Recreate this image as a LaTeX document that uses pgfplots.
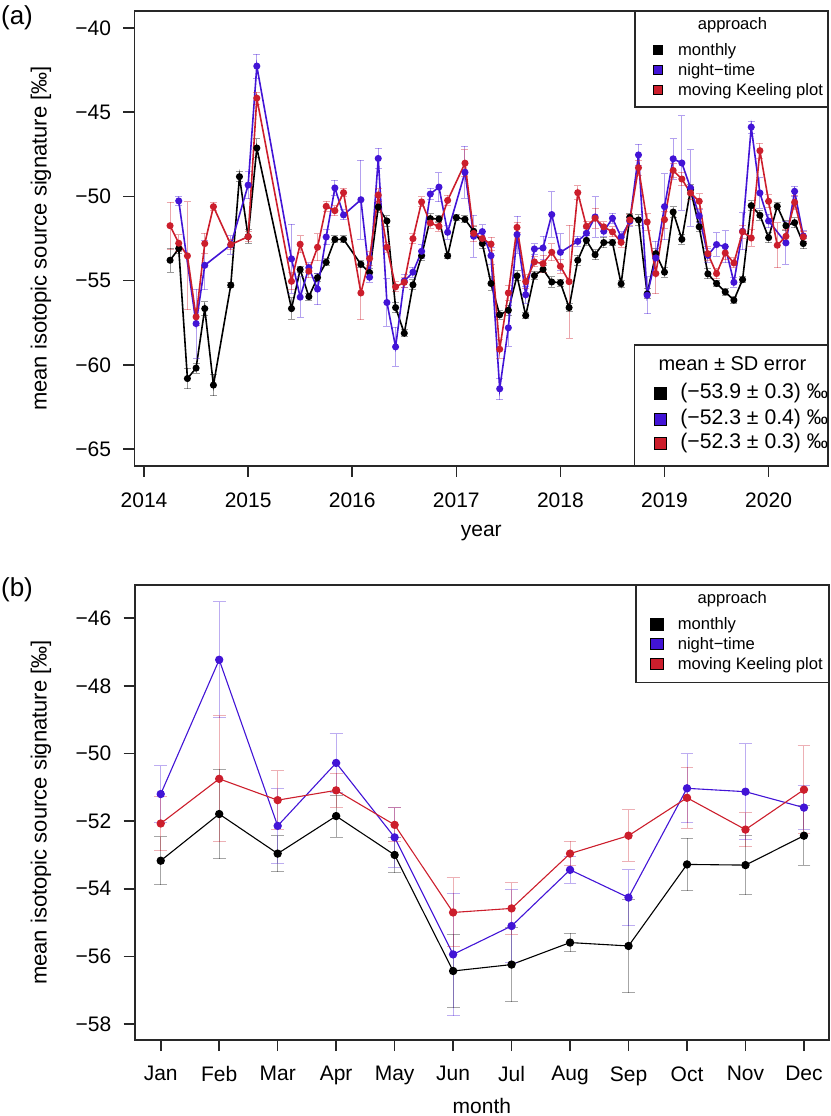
\documentclass[border=0pt]{standalone}
\usepackage{pgfplots}
\pgfplotsset{compat=1.18}
\usepackage{pgfplotstable}
\usepackage{fontspec}
\setmainfont{Liberation Sans}
\definecolor{cblue}{RGB}{66,20,214}
\definecolor{cred}{RGB}{204,30,44}
\definecolor{boxc}{RGB}{40,40,40}

% panel (a): m = months since Jan 2014
\pgfplotstableread{
m v e
3 -53.79 0.72
4 -53.10 0.3
5 -60.81 0.6
6 -60.19 0.3
7 -56.66 0.42
8 -61.20 0.64
10 -55.27 0.15
11 -48.83 0.3
12 -52.39 0.4
13 -47.13 0.54
17 -56.66 0.64
18 -54.34 0.2
19 -55.95 0.2
20 -54.82 0.25
21 -53.91 0.2
22 -52.55 0.2
23 -52.55 0.2
25 -54.03 0.2
26 -54.52 0.25
27 -50.63 0.3
28 -51.46 0.3
29 -56.60 0.3
30 -58.12 0.2
31 -55.25 0.3
32 -53.52 0.3
33 -51.32 0.3
34 -51.34 0.2
35 -53.53 0.15
36 -51.26 0.2
37 -51.36 0.2
38 -52.07 0.3
39 -52.80 0.3
40 -55.17 0.4
41 -57.03 0.25
42 -56.76 0.3
43 -54.72 0.3
44 -57.07 0.15
45 -54.70 0.25
46 -54.33 0.2
47 -55.08 0.3
48 -55.12 0.2
49 -56.60 0.25
50 -53.79 0.3
51 -52.61 0.3
52 -53.46 0.3
53 -52.74 0.3
54 -52.74 0.2
55 -55.19 0.2
56 -51.24 0.2
57 -51.40 0.3
58 -55.79 0.3
59 -53.40 0.3
60 -54.50 0.3
61 -50.93 0.3
62 -52.55 0.3
63 -49.60 0.3
64 -51.81 0.3
65 -54.60 0.3
66 -55.17 0.2
67 -55.67 0.2
68 -56.16 0.2
69 -54.94 0.2
70 -50.55 0.3
71 -51.12 0.3
72 -52.45 0.3
73 -50.59 0.2
74 -51.74 0.3
75 -51.56 0.3
76 -52.80 0.3
}\tblack

\pgfplotstableread{
m v e
4 -50.27 0.28
6 -57.55 2.05
7 -54.09 1.45
10 -52.88 0.55
12 -49.33 0.82
13 -42.27 0.71
17 -53.71 2.05
18 -55.98 1.2
19 -54.23 0.3
20 -55.50 0.94
21 -52.41 0.45
22 -49.50 0.47
23 -51.10 0.3
25 -50.20 2.35
26 -54.80 0.3
27 -47.75 0.6
28 -56.30 1.4
29 -58.93 1.15
30 -55.02 0.4
31 -54.50 0.3
32 -53.26 0.4
33 -49.86 0.35
34 -49.45 0.86
35 -52.13 0.4
37 -48.57 1.55
38 -52.37 1.25
39 -52.09 0.4
40 -53.52 0.5
41 -61.42 0.64
42 -57.80 1.1
43 -52.27 1.1
44 -55.84 0.5
45 -53.12 0.3
46 -53.06 0.7
47 -51.08 1.35
48 -53.32 1.1
50 -52.67 0.3
51 -52.19 0.3
52 -51.22 1.2
53 -52.07 0.3
54 -51.30 0.3
55 -52.41 0.3
56 -51.48 0.3
57 -47.54 0.62
58 -55.87 1.1
59 -53.65 1.0
60 -50.61 1.95
61 -47.77 1.2
62 -48.02 2.8
63 -49.50 2.27
64 -51.16 0.4
65 -53.50 0.4
66 -52.86 0.7
67 -52.98 0.95
68 -55.10 0.3
69 -52.07 1.1
70 -45.89 0.35
71 -49.80 0.9
72 -51.46 0.4
74 -52.76 1.26
75 -49.70 0.3
76 -52.35 0.3
}\tblue

\pgfplotstableread{
m v e
3 -51.74 1.4
4 -52.78 0.5
5 -53.53 3.2
6 -57.15 0.5
7 -52.80 0.6
8 -50.61 0.25
10 -52.86 0.3
12 -52.39 0.3
13 -44.17 0.36
17 -55.04 0.5
18 -52.84 0.5
19 -54.44 0.4
20 -53.02 0.8
21 -50.59 0.3
22 -50.85 0.3
23 -49.78 0.25
25 -55.73 1.6
26 -53.69 0.4
27 -49.92 0.37
28 -53.02 0.3
29 -55.37 0.3
30 -55.10 0.3
31 -52.51 0.3
32 -50.33 0.3
33 -51.58 0.3
34 -51.78 0.3
35 -50.24 0.3
37 -48.03 0.8
38 -52.20 0.5
39 -52.50 0.4
40 -52.83 0.4
41 -59.07 0.55
42 -55.73 0.47
43 -51.84 0.3
44 -55.06 0.4
45 -53.89 0.3
46 -53.99 0.5
47 -53.32 0.5
48 -54.15 0.4
49 -55.06 3.35
50 -49.78 0.4
51 -51.78 0.3
52 -51.30 0.6
53 -51.81 0.3
54 -52.11 0.3
55 -52.73 0.3
56 -51.40 0.3
57 -48.30 0.45
58 -51.52 0.5
59 -54.58 1.2
60 -51.38 0.5
61 -48.46 0.4
62 -48.97 0.4
63 -49.80 0.4
64 -50.29 0.45
65 -53.40 0.4
66 -54.58 0.3
67 -53.36 0.4
68 -53.95 0.3
69 -52.10 0.4
70 -52.47 0.5
71 -47.29 0.45
72 -50.29 0.4
73 -52.90 1.33
74 -52.37 0.4
75 -50.35 0.4
76 -52.40 0.3
}\tred

% panel (b): monthly means
\pgfplotstableread{
mo bk bke bl ble rd rde
1 -53.17 0.71 -51.20 0.83 -52.07 0.80
2 -51.79 1.32 -47.23 1.71 -50.75 1.86
3 -52.96 0.53 -52.14 1.10 -51.38 0.87
4 -51.85 0.62 -50.28 0.86 -51.09 0.50
5 -53.00 0.52 -52.48 0.88 -52.11 0.50
6 -56.43 1.09 -55.94 1.81 -54.70 1.02
7 -56.24 1.10 -55.10 1.07 -54.58 0.76
8 -55.59 0.27 -53.44 0.40 -52.96 0.36
9 -55.69 1.38 -54.26 0.83 -52.43 0.76
10 -53.28 0.78 -51.03 1.02 -51.31 0.90
11 -53.30 0.88 -51.13 1.42 -52.25 0.50
12 -52.43 0.88 -51.60 0.64 -51.07 1.30
}\tmon

\pgfplotsset{
  rbox/.style={
    scale only axis,
    axis line style={boxc, line width=0.8pt},
    tick align=outside,
    major tick length=5.5pt,
    tick style={boxc, line width=0.8pt},
    xtick pos=left, ytick pos=left,
    tick label style={font=\fontsize{10.5}{12}\selectfont},
    label style={font=\fontsize{10.5}{12}\selectfont},
    ylabel style={font=\fontsize{11}{13}\selectfont},
    yticklabel style={xshift=-2.7pt},
    xticklabel style={yshift=-4.2pt},
  },
  sera/.style={color=#1, line width=0.8pt, mark=*, mark size=1.35pt,
    mark options={solid, fill=#1, draw=#1},
    error bars/.cd, y dir=both, y explicit,
    error bar style={#1, opacity=0.4, line width=0.5pt},
    error mark options={rotate=90, #1, opacity=0.4, mark size=1.75pt, line width=0.5pt}},
  serb/.style={color=#1, line width=0.55pt, mark=*, mark size=1.8pt,
    mark options={solid, fill=#1, draw=#1},
    error bars/.cd, y dir=both, y explicit,
    error bar style={#1, opacity=0.35, line width=0.5pt},
    error mark options={rotate=90, #1, opacity=0.35, mark size=3.2pt, line width=0.5pt}},
}

\begin{document}
\begin{tikzpicture}
\path[use as bounding box] (0,0) rectangle (415.5pt,558pt);

% ---------------- panel (a)
\begin{axis}[rbox,
  at={(67.25pt,325pt)}, anchor=south west,
  width=346.75pt, height=227.5pt,
  xmin=-1.1, xmax=78.85, ymin=-66, ymax=-39,
  xtick={0,12,24,36,48,60,72},
  xticklabels={2014,2015,2016,2017,2018,2019,2020},
  ytick={-65,-60,-55,-50,-45,-40},
  yticklabels={−65,−60,−55,−50,−45,−40},
  xlabel={year},
  ylabel={mean isotopic source signature [‰]},
  xlabel style={at={(axis description cs:0.5,-0.148)}, anchor=center},
  ylabel style={at={(axis description cs:-0.135,0.5)}, anchor=center},
]
\addplot[sera=black] table[x=m, y=v, y error=e] {\tblack};
\addplot[sera=cblue] table[x=m, y=v, y error=e] {\tblue};
\addplot[sera=cred] table[x=m, y=v, y error=e] {\tred};
\end{axis}

% ---------------- panel (b)
\begin{axis}[rbox,
  at={(67.35pt,38pt)}, anchor=south west,
  width=347.2pt, height=227.5pt,
  xmin=0.555, xmax=12.43, ymin=-58.47, ymax=-45.02,
  xtick={1,...,12},
  xticklabels={Jan,Feb,Mar,Apr,May,Jun,Jul,Aug,Sep,Oct,Nov,Dec},
  ytick={-58,-56,-54,-52,-50,-48,-46},
  yticklabels={−58,−56,−54,−52,−50,−48,−46},
  xlabel={month},
  ylabel={mean isotopic source signature [‰]},
  xlabel style={at={(axis description cs:0.5,-0.145)}, anchor=center},
  ylabel style={at={(axis description cs:-0.135,0.5)}, anchor=center},
]
\addplot[serb=black] table[x=mo, y=bk, y error=bke] {\tmon};
\addplot[serb=cblue] table[x=mo, y=bl, y error=ble] {\tmon};
\addplot[serb=cred] table[x=mo, y=rd, y error=rde] {\tmon};
\end{axis}

% panel letters
\node[font=\fontsize{13}{15}\selectfont] at (8.5pt,549pt) {(a)};
\node[font=\fontsize{13}{15}\selectfont] at (8.5pt,263pt) {(b)};

% legend (a) approach
\draw[boxc, line width=0.6pt, fill=white] (317.5pt,504.5pt) rectangle (414pt,552.5pt);
\node[font=\fontsize{8.3}{10}\selectfont] at (366.2pt,545.5pt) {approach};
\foreach \yy/\cc/\tt in {533.1/black/monthly, 523.1/cblue/night−time, 513.1/cred/moving Keeling plot}{
  \filldraw[fill=\cc, draw=black, line width=0.4pt] (326.5pt,\yy pt-2.3pt) rectangle (331.1pt,\yy pt+2.3pt);
  \node[anchor=mid west, inner sep=0pt, font=\fontsize{8.3}{10}\selectfont] at (338.85pt,\yy pt) {\tt};
}

% legend (a) mean +- SD
\draw[boxc, line width=0.6pt, fill=white] (317.35pt,325pt) rectangle (414pt,385.5pt);
\node[font=\fontsize{10}{12}\selectfont] at (366.2pt,376.3pt) {mean ± SD error};
\foreach \yy/\cc/\tt in {361.15/black/(−53.9 ± 0.3) ‰, 348.4/cblue/(−52.3 ± 0.4) ‰, 336.4/cred/(−52.3 ± 0.3) ‰}{
  \filldraw[fill=\cc, draw=black, line width=0.4pt] (327pt,\yy pt-3.1pt) rectangle (333.2pt,\yy pt+3.1pt);
  \node[anchor=mid west, inner sep=0pt, font=\fontsize{10.6}{13}\selectfont] at (340pt,\yy pt) {\tt};
}

% legend (b) approach
\draw[boxc, line width=0.6pt, fill=white] (318pt,216.65pt) rectangle (414.5pt,265.5pt);
\node[font=\fontsize{8.3}{10}\selectfont] at (366.1pt,258.3pt) {approach};
\foreach \yy/\cc/\tt in {245.9/black/monthly, 236.1/cblue/night−time, 226.1/cred/moving Keeling plot}{
  \filldraw[fill=\cc, draw=black, line width=0.4pt] (325.4pt,\yy pt-2.9pt) rectangle (331.6pt,\yy pt+2.9pt);
  \node[anchor=mid west, inner sep=0pt, font=\fontsize{8.3}{10}\selectfont] at (338.7pt,\yy pt) {\tt};
}
\end{tikzpicture}
\end{document}
